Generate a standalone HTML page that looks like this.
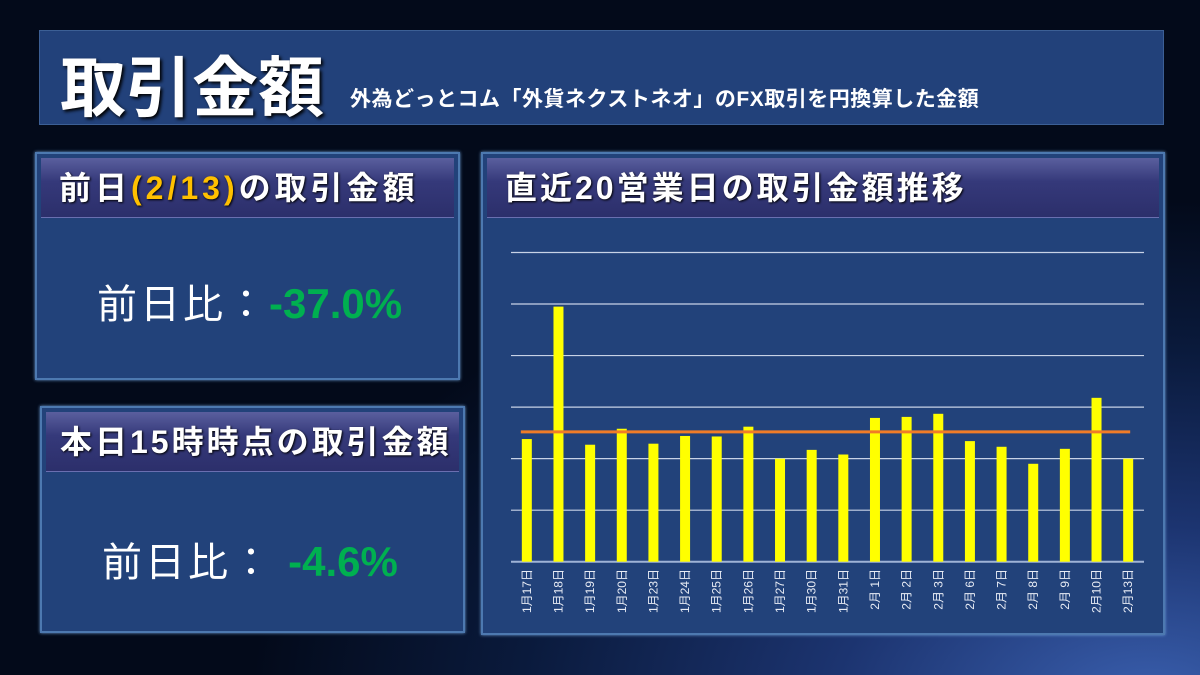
<!DOCTYPE html>
<html><head><meta charset="utf-8"><style>
*{margin:0;padding:0;box-sizing:border-box}
body{width:1200px;height:675px;overflow:hidden;position:relative;font-family:"Liberation Sans","Noto Sans CJK JP",sans-serif;
background:radial-gradient(ellipse 900px 500px at 1150px 700px,#3a5fae 0%,#1c3470 35%,#0a1a3c 70%,#030a1a 100%),#030a1a;}
.box{position:absolute;background:#22427a;border:2px solid #4d79b0;box-shadow:0 0 3px #6fa0d8;}
.hdr{position:absolute;left:4px;right:4px;top:4px;height:60px;background:linear-gradient(#5a5f9e,#35397a 40%,#2c2f6b);border-bottom:1px solid #6a6fb0;color:#fff;font-weight:bold;font-size:32px;letter-spacing:3px;line-height:60px;padding-left:18px;text-shadow:1px 1px 2px #000;white-space:nowrap}
.big{position:absolute;color:#fff;font-size:40px;letter-spacing:3px;white-space:nowrap}
.grn{color:#00b050;font-weight:bold;font-size:42px;letter-spacing:0}
</style></head><body>
<div class="box" style="left:39px;top:30px;width:1125px;height:95px;box-shadow:none;border:1px solid #3c5f95;background:#22417a">
 <div style="position:absolute;left:20px;top:4px;font-size:66px;font-weight:bold;color:#fff;text-shadow:2px 2px 3px #000;white-space:nowrap">取引金額</div>
 <div style="position:absolute;left:310px;top:52px;font-size:21px;letter-spacing:0.5px;font-weight:bold;color:#fff;white-space:nowrap">外為どっとコム「外貨ネクストネオ」のFX取引を円換算した金額</div>
</div>
<div class="box" style="left:35px;top:152px;width:425px;height:228px">
 <div class="hdr" style="letter-spacing:4px">前日<span style="color:#ffc000">(2/13)</span>の取引金額</div>
 <div class="big" style="left:60px;top:118px">前日比：<span class="grn">-37.0%</span></div>
</div>
<div class="box" style="left:40px;top:406px;width:425px;height:227px">
 <div class="hdr" style="padding-left:14px">本日15時時点の取引金額</div>
 <div class="big" style="left:60px;top:122px">前日比： <span class="grn">-4.6%</span></div>
</div>
<div class="box" style="left:481px;top:152px;width:684px;height:483px">
 <div class="hdr">直近20営業日の取引金額推移</div>
</div>
<svg id="chart" width="1200" height="675" style="position:absolute;left:0;top:0"></svg>
<script>
const categories=["1月17日","1月18日","1月19日","1月20日","1月23日","1月24日","1月25日","1月26日","1月27日","1月30日","1月31日","2月 1日","2月 2日","2月 3日","2月 6日","2月 7日","2月 8日","2月 9日","2月10日","2月13日"];
const values=[2.38,4.95,2.27,2.58,2.29,2.44,2.43,2.62,2.0,2.17,2.08,2.79,2.81,2.87,2.34,2.23,1.90,2.19,3.18,2.0];
const average=[2.52];
const yTicks=[0,1,2,3,4,5,6];
const svg=document.getElementById('chart');
const NS='http://www.w3.org/2000/svg';
const X0=511,X1=1144,Y0=561.7,Y1=252.5,YMAX=6;
const band=(X1-X0)/categories.length;
const xc=i=>X0+band*(i+0.5);
const y=v=>Y0-(v/YMAX)*(Y0-Y1);
function mk(t,a){const e=document.createElementNS(NS,t);for(const k in a)e.setAttribute(k,a[k]);svg.appendChild(e);return e;}
yTicks.forEach(t=>{
 const l=mk('line',{x1:X0,x2:X1,y1:y(t),y2:y(t),stroke:t===0?'#9fb3d6':'#c8d2e6','stroke-width':t===0?2:1.2});
 
 
});
values.forEach((v,i)=>{
 const r=mk('rect',{x:xc(i)-5,y:y(v),width:10,height:Y0-y(v),fill:'#ffff00'});
 
 
 const tx=xc(i)+4,ty=569;
 const t=mk('text',{x:tx,y:ty,fill:'#e8ecf5','font-size':12,'text-anchor':'end',transform:`rotate(-90 ${tx} ${ty})`,'font-family':'"Liberation Sans","Noto Sans CJK JP",sans-serif'});
 t.textContent=categories[i];
 
 
});
const al=mk('line',{x1:xc(0)-6,x2:xc(categories.length-1)+2,y1:y(average[0]),y2:y(average[0]),stroke:'#f07c28','stroke-width':3});


</script>
</body></html>
